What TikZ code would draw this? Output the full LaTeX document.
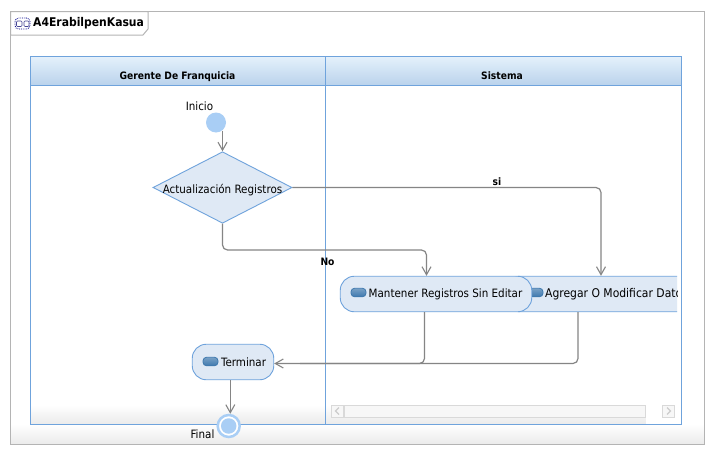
\documentclass[tikz,border=0pt]{standalone}
\usepackage{fontspec}
\setmainfont{DejaVu Sans Condensed}
\usetikzlibrary{calc, positioning, arrows.meta, shapes.geometric}
\definecolor{laneblue}{HTML}{6FA3DC}
\definecolor{headtop}{HTML}{E4F0FB}
\definecolor{headbottom}{HTML}{BAD3EC}
\definecolor{nodefill}{HTML}{DFE9F5}
\definecolor{startblue}{HTML}{A9CEF5}
\definecolor{flowgray}{HTML}{858585}
\definecolor{framegray}{HTML}{B4B4B4}
\definecolor{pilldark}{HTML}{3F79AE}
\definecolor{pilllight}{HTML}{C4D8EA}
\tikzset{
	lbl/.style={font=\fontsize{11.5}{13}\selectfont, inner sep=0pt},
	boldlbl/.style={font=\fontsize{10.2}{13}\selectfont\bfseries, inner sep=0pt, anchor=base},
	action/.style={draw=laneblue, fill=nodefill, line width=0.9pt, rounded corners=14pt, minimum height=35.5pt, inner sep=0pt, lbl},
	pill/.style={draw=pilldark, top color=pilldark!70!white, middle color=pilllight, bottom color=pilldark, rounded corners=3.5pt, minimum width=15pt, minimum height=8.5pt, inner sep=0pt, line width=0.8pt},
	flow/.style={draw=flowgray, line width=1.2pt, rounded corners=5pt, -{Straight Barb[length=8pt,width=9pt,line width=1.1pt]}},
	flowplain/.style={draw=flowgray, line width=1.2pt, rounded corners=5pt},
	scrollpart/.style={draw=black!15, fill=black!3, line width=0.9pt, minimum height=12pt, inner sep=0pt},
}
\begin{document}
\begin{tikzpicture}[x=1pt, y=-1pt]
	\useasboundingbox (0,0) rectangle (712,455);
	\fill[white] (0,0) rectangle (712,455);

	\shade[top color=white, bottom color=black!8] (11,424) rectangle (704,444);
	\draw[framegray, line width=1pt] (10.5,11.5) rectangle (704,444);

	\draw[framegray, fill=white, line width=1pt] (10.5,11.5) -- (148,11.5) -- (148,29) -- (143,35) -- (10.5,35) -- cycle;
	\node[anchor=west, inner sep=0pt, font=\fontsize{12}{15}\selectfont\bfseries] (title) at (33,23) {A4ErabilpenKasua};
	\node[draw=blue!55!black, densely dotted, rounded corners=3.5pt, minimum width=15pt, minimum height=11pt, inner sep=0pt, line width=0.8pt] (titleicon) at (22.5,23.5) {};
	\draw[black!30!blue!45!gray, rounded corners=1pt, line width=0.7pt] (16.5,21) rectangle (22,26.5) (24,21) rectangle (29,26.5);

	\shade[top color=white, bottom color=black!8] (31,405) rectangle (681,424);
	\fill[white] (646,405) rectangle (681,424);
	\shade[top color=headtop, bottom color=headbottom] (31,57) rectangle (681,85);
	\draw[laneblue, line width=1pt] (30.5,56.5) rectangle (681.5,424.5);
	\draw[laneblue, line width=1pt] (30.5,85) -- (681.5,85);
	\draw[laneblue, line width=1pt] (325.5,56.5) -- (325.5,424.5);
	\node[boldlbl] (lane1) at (177.5,79) {Gerente De Franquicia};
	\node[boldlbl] (lane2) at (502,79) {Sistema};

	\node[scrollpart, minimum width=12pt] (scrollleft) at (337.5,411) {};
	\node[scrollpart, minimum width=301pt, right=0pt of scrollleft] (scrolltrack) {};
	\node[scrollpart, minimum width=12pt] (scrollright) at (668.5,411) {};
	\draw[black!20, line width=1.2pt] (339,407.5) -- (335.5,411) -- (339,414.5);
	\draw[black!20, line width=1.2pt] (667,407.5) -- (670.5,411) -- (667,414.5);

	\node[circle, fill=startblue, minimum size=20pt, inner sep=0pt] (inicio) at (216,122.5) {};
	\node[lbl] (inicioLbl) at (199.5,106) {Inicio};
	\node[diamond, draw=laneblue, fill=nodefill, line width=0.9pt, minimum width=139pt, minimum height=71.5pt, inner sep=0pt, aspect=1.95, lbl] (decision) at (222.5,187.5) {\smash{\raisebox{-5.5pt}{Actualización Registros}}};

	\begin{scope}
		\clip (490,270) rectangle (677,318);
		\node[action, minimum width=190pt] (agregar) at (601,294) {\hspace{31pt}\fontsize{12}{13}\selectfont Agregar O Modificar Datos};
	\end{scope}
	\node[pill] (pillAgregar) at (535.5,292.5) {};
	\node[action, minimum width=191.5pt] (mantener) at (436,294) {\hspace{19pt}Mantener Registros Sin Editar};
	\node[pill] (pillMantener) at (358.5,292.5) {};

	\node[action, minimum width=81.5pt] (terminar) at (233,362) {};
	\node[pill] (pillTerminar) at (210.5,361.5) {};
	\begin{scope}
		\clip (220,350) rectangle (265,374);
		\node[lbl, anchor=west] (terminarLbl) at (221,362) {Terminar};
	\end{scope}

	\draw[flow] ([xshift=6.5pt,yshift=2pt]inicio.south) -- (decision.north);
	\draw[flow] (decision.east) -- (agregar.north |- decision.east) -- (agregar.north);
	\draw[flow] (decision.south) -- (222.5,250) -- (426.5,250) -- ([xshift=-9.5pt]mantener.north);
	\draw[flowplain] ([xshift=-11.5pt]mantener.south) -- (424.5,363.5) -- (300,363.5);
	\draw[flow] ([xshift=-23pt]agregar.south) -- (578,363.5) -- ([yshift=-1.5pt]terminar.east);

	\node[circle, draw=startblue, fill=white, line width=2.5pt, minimum size=22pt, inner sep=0pt] (final) at (228.7,426) {};
	\draw[flow] ([xshift=-2.7pt]terminar.south) -- ([xshift=-2.7pt]terminar.south |- final.north);
	\node[circle, fill=startblue, minimum size=15.5pt, inner sep=0pt] (finalDot) at (228.7,426) {};
	\node[lbl] (finalLbl) at (202.5,434) {Final};
	\node[boldlbl] (siLbl) at (497,185) {si};
	\node[boldlbl] (noLbl) at (327.5,265) {No};
\end{tikzpicture}
\end{document}
